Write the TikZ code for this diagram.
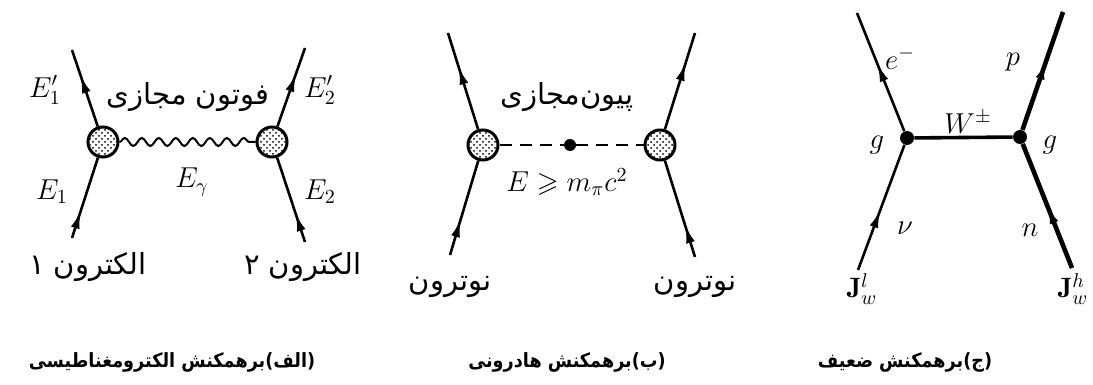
\documentclass[tikz,border=0pt]{standalone}
\usepackage{amsmath,amssymb}
\usepackage{fontspec}
\newfontfamily\farsi[Script=Arabic]{DejaVu Sans}
\newfontfamily\farsicap[Script=Arabic]{DejaVu Sans Condensed}
\TeXXeTstate=1
\usetikzlibrary{positioning,arrows.meta,decorations.markings,decorations.pathmorphing,patterns}
\tikzset{
  fline/.style={line width=1.3pt,postaction={decorate},
    decoration={markings,mark=at position #1 with {\arrow{Latex[length=9pt,width=4.5pt]}}}},
  blob/.style={draw,circle,line width=1.5pt,minimum size=15pt,inner sep=0pt,
    preaction={fill=white},pattern=crosshatch dots},
  vdot/.style={circle,fill=black,inner sep=0pt,minimum size=7pt},
  lbl/.style={font=\fontsize{14}{16}\selectfont,inner sep=0pt},
  fa/.style={font=\farsi\fontsize{14.5}{16}\selectfont,inner sep=1pt},
  captext/.style={font=\farsicap\bfseries\fontsize{9.8}{12}\selectfont,inner sep=1pt},
}
\begin{document}
\begin{tikzpicture}[x=0.5pt,y=-0.5pt]
  \useasboundingbox (0,0) rectangle (1093,385);
  % (a) electromagnetic
  \node[blob] (a1) at (103,142) {};
  \node[blob] (a2) at (272,142) {};
  \coordinate (a1in) at (72,238);
  \coordinate (a1out) at (72,50);
  \coordinate (a2in) at (305,242);
  \coordinate (a2out) at (305,48);
  \draw[fline=0.34] (a1in) -- (a1);
  \draw[fline=0.67] (a1) -- (a1out);
  \draw[fline=0.34] (a2in) -- (a2);
  \draw[fline=0.67] (a2) -- (a2out);
  \draw[line width=1pt,decorate,decoration={snake,amplitude=2pt,segment length=8.5pt}] (a1) -- (a2);
  \node[lbl] (e1p) at (45,90) {$E'_1$};
  \node[lbl] (e1) at (52,192) {$E_1$};
  \node[lbl] (e2p) at (320,90) {$E'_2$};
  \node[lbl] (e2) at (320,192) {$E_2$};
  \node[lbl] (eg) at (192,182) {$E_\gamma$};
  \node[fa] (phot) at (188,97) {\beginR فوتون مجازی\endR};
  \node[fa] (el1) at (88,267) {\beginR الکترون ۱\endR};
  \node[fa] (el2) at (303,267) {\beginR الکترون ۲\endR};
  % (b) hadronic
  \node[blob] (b1) at (483,145) {};
  \node[blob] (b2) at (660,145) {};
  \node[vdot,minimum size=6pt] (bm) at (570,145) {};
  \coordinate (b1in) at (450,255);
  \coordinate (b1out) at (448,33);
  \coordinate (b2in) at (695,257);
  \coordinate (b2out) at (695,33);
  \draw[fline=0.38] (b1in) -- (b1);
  \draw[fline=0.65] (b1) -- (b1out);
  \draw[fline=0.33] (b2in) -- (b2);
  \draw[fline=0.69] (b2) -- (b2out);
  \draw[line width=1pt,dash pattern=on 6pt off 4pt] (b1) -- (bm) -- (b2);
  \node[fa] (pion) at (567,97) {\beginR پیون‌مجازی\endR};
  \node[lbl] (en) at (567,182) {$E \geqslant m_\pi c^2$};
  \node[fa] (n1) at (450,287) {\beginR نوترون\endR};
  \node[fa] (n2) at (695,287) {\beginR نوترون\endR};
  % (c) weak
  \node[vdot] (c1) at (907,138) {};
  \node[vdot] (c2) at (1020,137) {};
  \coordinate (c1in) at (858,270);
  \coordinate (c1out) at (857,13);
  \coordinate (c2in) at (1072,268);
  \coordinate (c2out) at (1063,12);
  \draw[fline=0.48] (c1in) -- (c1);
  \draw[fline=0.57] (c1) -- (c1out);
  \draw[fline=0.5,line width=2.3pt] (c2in) -- (c2);
  \draw[fline=0.58,line width=2.3pt] (c2) -- (c2out);
  \draw[line width=1.8pt] (c1) -- (c2);
  \node[lbl] (w) at (968,122) {$W^{\pm}$};
  \node[lbl] (g1) at (877,145) {$g$};
  \node[lbl] (g2) at (1050,145) {$g$};
  \node[lbl] (em) at (900,58) {$e^-$};
  \node[lbl] (p) at (1013,62) {$p$};
  \node[lbl] (nu) at (905,228) {$\nu$};
  \node[lbl] (nn) at (1030,230) {$n$};
  \node[lbl] (jl) at (862,289) {$\mathbf{J}^l_w$};
  \node[lbl] (jh) at (1073,289) {$\mathbf{J}^h_w$};
  % captions
  \node[captext] (capa) at (172,362) {\beginR (الف)برهمکنش الکترومغناطیسی\endR};
  \node[captext] (capb) at (567,362) {\beginR (ب)برهمکنش هادرونی\endR};
  \node[captext] (capc) at (905,362) {\beginR (ج)برهمکنش ضعیف\endR};
\end{tikzpicture}
\end{document}
